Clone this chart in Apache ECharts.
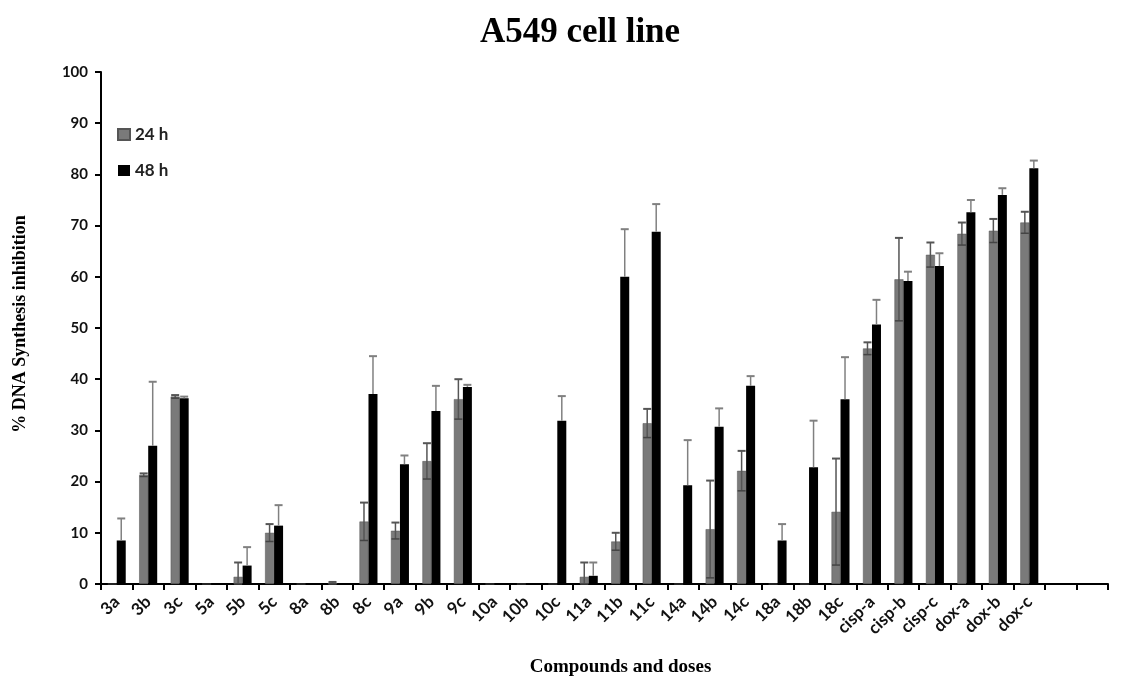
<!DOCTYPE html>
<html>
<head>
<meta charset="utf-8">
<script src="https://cdn.jsdelivr.net/npm/echarts@6/dist/echarts.min.js"></script>
<style>html,body{margin:0;padding:0;background:#fff;}#c{width:1131px;height:677px;}</style>
</head>
<body>
<div id="c"></div>
<script>
const categories = ['3a','3b','3c','5a','5b','5c','8a','8b','8c','9a','9b','9c','10a','10b','10c','11a','11b','11c','14a','14b','14c','18a','18b','18c','cisp-a','cisp-b','cisp-c','dox-a','dox-b','dox-c','',''];
const values24 = [0,21.3,36.6,0,1.4,10.0,0,0.2,12.2,10.4,24.0,36.1,0,0,0,1.4,8.3,31.4,0,10.7,22.1,0,0,14.1,46.0,59.5,64.3,68.4,69.0,70.6,null,null];
const errors24 = [null,0.3,0.3,null,2.8,1.7,null,0.2,3.7,1.6,3.5,3.9,null,null,null,2.8,1.7,2.8,null,9.5,3.9,null,null,10.4,1.2,8.1,2.4,2.2,2.3,2.1,null,null];
const values48 = [8.5,27.0,36.3,0,3.6,11.4,0,0,37.1,23.4,33.8,38.5,0,0,31.9,1.6,60.0,68.8,19.3,30.7,38.7,8.5,22.8,36.1,50.7,59.2,62.1,72.6,76.0,81.2,null,null];
const errors48 = [4.3,12.5,0.3,null,3.6,4.0,null,null,7.4,1.7,4.9,0.4,null,null,4.8,2.6,9.3,5.4,8.8,3.6,1.9,3.2,9.1,8.2,4.8,1.8,2.5,2.4,1.3,1.5,null,null];
const yTicks = [0,10,20,30,40,50,60,70,80,90,100];

const BW = 9;
function errData(vals, errs){
  const out = [];
  for (let i = 0; i < vals.length; i++) {
    if (errs[i] != null && vals[i] != null) out.push([i, vals[i], errs[i]]);
  }
  return out;
}
function makeErr(off, color, withLower){
  return function(params, api){
    const idx = api.value(0), v = api.value(1), e = api.value(2);
    const t = api.coord([idx, v + e]);
    const m = api.coord([idx, v]);
    const b = api.coord([idx, Math.max(0, v - e)]);
    const x = t[0] + off;
    const cw = 4;
    const kids = [
      {type:'line', shape:{x1:x, y1:t[1], x2:x, y2:withLower ? b[1] : m[1]}, style:{stroke: color, lineWidth: 1.5}},
      {type:'line', shape:{x1:x-cw, y1:t[1], x2:x+cw, y2:t[1]}, style:{stroke: color, lineWidth: 2}}
    ];
    if (withLower) kids.push({type:'line', shape:{x1:x-cw, y1:b[1], x2:x+cw, y2:b[1]}, style:{stroke: '#444', lineWidth: 1.5}});
    return {type:'group', children: kids};
  };
}

const chart = echarts.init(document.getElementById('c'), null, {renderer:'canvas'});
chart.setOption({
  animation: false,
  backgroundColor: '#fff',
  title: {
    text: 'A549 cell line', left: 575, top: 10, textAlign: 'center',
    textStyle: {fontFamily: 'Liberation Serif', fontWeight: 'bold', fontSize: 35, color: '#000'}
  },
  legend: {
    data: ['24 h','48 h'], orient: 'vertical', left: 117, top: 126, itemGap: 19, padding: 0,
    icon: 'rect', itemWidth: 12, itemHeight: 11,
    textStyle: {fontFamily: 'Lato', fontWeight: 'bold', fontSize: 17, color: '#222'}
  },
  grid: {left: 101, right: 23, top: 72, bottom: 93, containLabel: false, outerBoundsMode: 'none'},
  xAxis: {
    type: 'category', data: categories,
    name: 'Compounds and doses', nameLocation: 'middle', nameGap: 74,
    nameTextStyle: {fontFamily: 'Liberation Serif', fontWeight: 'bold', fontSize: 19, color: '#000', padding: [0, 0, 0, 32]},
    axisLine: {lineStyle: {color: '#000', width: 2}},
    axisTick: {show: true, alignWithLabel: false, length: 6, lineStyle: {color: '#000', width: 2}},
    axisLabel: {rotate: 45, interval: 0, fontFamily: 'Lato', fontWeight: 'bold', fontSize: 17, color: '#111', margin: 15}
  },
  yAxis: {
    type: 'value', min: 0, max: 100, interval: 10,
    name: '% DNA Synthesis inhibition', nameLocation: 'middle', nameGap: 72,
    nameTextStyle: {fontFamily: 'Liberation Serif', fontWeight: 'bold', fontSize: 18, color: '#000', padding: [0, 0, 0, 8]},
    axisLine: {show: true, lineStyle: {color: '#000', width: 2}},
    axisTick: {show: true, length: 6, lineStyle: {color: '#000', width: 2}},
    splitLine: {show: false},
    axisLabel: {fontFamily: 'Lato', fontWeight: 'bold', fontSize: 15, color: '#111', margin: 13,
      formatter: function(v){ return yTicks.indexOf(v) >= 0 ? String(v) : ''; }}
  },
  series: [
    {name: '24 h', type: 'bar', data: values24, barWidth: BW, barGap: '0%',
     itemStyle: {color: '#7a7a7a', borderColor: '#555', borderWidth: 0.5}},
    {name: '48 h', type: 'bar', data: values48, barWidth: BW, barGap: '0%',
     itemStyle: {color: '#000'}},
    {name: 'err24', type: 'custom', data: errData(values24, errors24), renderItem: makeErr(-BW/2, '#555', true), z: 5},
    {name: 'err48', type: 'custom', data: errData(values48, errors48), renderItem: makeErr(BW/2, '#808080', false), z: 5}
  ]
});
</script>
</body>
</html>
